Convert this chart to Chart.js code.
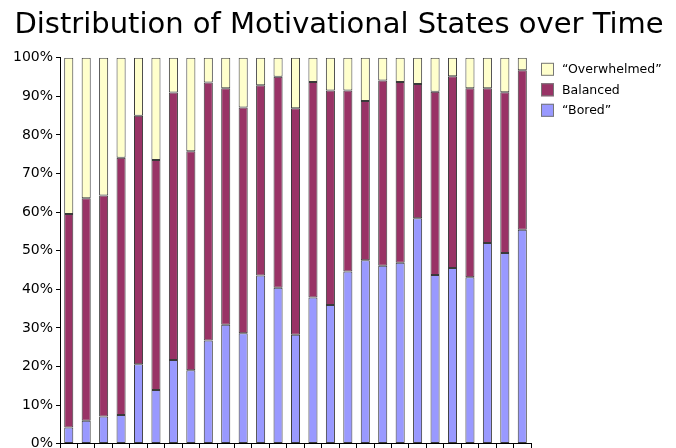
<!DOCTYPE html>
<html>
<head>
<meta charset="utf-8">
<script src="https://cdn.jsdelivr.net/npm/chart.js@4"></script>
<style>
  html, body { margin: 0; padding: 0; background: #fff; overflow: hidden; }
  #wrap { width: 676px; height: 455px; }
</style>
</head>
<body>
<div id="wrap"><canvas id="chart"></canvas></div>
<script>
// time points (no labels shown on the axis)
const periods = Array.from({ length: 27 }, (_, i) => 'T' + (i + 1));

// percentages per time point
const bored = [4.2, 5.9, 7.0, 7.4, 20.6, 13.9, 21.7, 19.0, 26.7, 30.8, 28.6, 43.6, 40.4, 28.2,
  37.9, 35.9, 44.6, 47.5, 46.1, 46.9, 58.4, 43.7, 45.5, 43.1, 52.0, 49.4, 55.4];
const balanced = [55.3, 57.7, 57.3, 66.7, 64.4, 59.6, 69.3, 56.8, 66.9, 61.3, 58.5, 49.3, 54.7, 58.7,
  55.8, 55.6, 46.9, 41.3, 48.0, 46.8, 34.8, 47.5, 49.7, 49.0, 40.1, 41.7, 41.4];
const overwhelmed = [40.5, 36.4, 35.7, 25.9, 15.0, 26.5, 9.0, 24.2, 6.4, 7.9, 12.9, 7.1, 4.9, 13.1,
  6.3, 8.5, 8.5, 11.2, 5.9, 6.3, 6.8, 8.8, 4.8, 7.9, 7.9, 8.9, 3.2];

const yTicks = [0, 10, 20, 30, 40, 50, 60, 70, 80, 90, 100];

const FONT = 'DejaVu Sans';

function barSet(label, data, color) {
  return {
    label: label,
    data: data,
    backgroundColor: color,
    borderColor: '#3a3a3a',
    borderWidth: 1,
    borderSkipped: false,
    categoryPercentage: 1,
    barPercentage: 0.52
  };
}

// legend drawn next to the plot, top entry = top segment
const sideLegend = {
  id: 'sideLegend',
  afterDraw(chart) {
    const ctx = chart.ctx;
    const area = chart.chartArea;
    const x = area.right + 10;
    let y = area.top + 5;
    ctx.save();
    ctx.font = '12.5px "' + FONT + '"';
    ctx.textBaseline = 'middle';
    ctx.textAlign = 'left';
    chart.data.datasets.slice().reverse().forEach(ds => {
      ctx.fillStyle = ds.backgroundColor;
      ctx.fillRect(x, y, 13, 13);
      ctx.strokeStyle = '#777';
      ctx.lineWidth = 1;
      ctx.strokeRect(x + 0.5, y + 0.5, 12, 12);
      ctx.fillStyle = '#000';
      ctx.fillText(ds.label, x + 21, y + 7);
      y += 20.5;
    });
    ctx.restore();
  }
};

new Chart(document.getElementById('chart'), {
  type: 'bar',
  data: {
    labels: periods,
    datasets: [
      barSet('\u201cBored\u201d', bored, '#9999ff'),
      barSet('Balanced', balanced, '#993366'),
      barSet('\u201cOverwhelmed\u201d', overwhelmed, '#ffffcc')
    ]
  },
  plugins: [sideLegend],
  options: {
    responsive: true,
    maintainAspectRatio: false,
    animation: false,
    layout: { padding: { left: 10, right: 8, top: 0, bottom: 0 } },
    plugins: {
      title: {
        display: true,
        text: 'Distribution of Motivational States over Time',
        color: '#000',
        font: { family: FONT, size: 29, weight: 'normal' },
        padding: { top: 8, bottom: 15 }
      },
      legend: { display: false },
      tooltip: { enabled: false }
    },
    scales: {
      x: {
        stacked: true,
        grid: { display: true, drawOnChartArea: false, offset: true, color: '#000', tickLength: 5 },
        border: { color: '#000' },
        ticks: { callback: () => '', padding: 0, font: { size: 1 } }
      },
      y: {
        stacked: true,
        min: 0,
        max: 100,
        afterBuildTicks: axis => { axis.ticks = yTicks.map(v => ({ value: v })); },
        grid: { display: true, drawOnChartArea: false, color: '#000', tickLength: 4 },
        border: { color: '#000' },
        ticks: {
          color: '#000',
          font: { family: FONT, size: 14 },
          padding: 3,
          callback: v => v + '%'
        }
      },
      // empty axis that only keeps room for the legend on the right
      legendRoom: {
        type: 'linear',
        position: 'right',
        grid: { display: false },
        border: { display: false },
        ticks: { display: false },
        afterFit: axis => { axis.width = 137; }
      }
    }
  }
});
</script>
</body>
</html>
